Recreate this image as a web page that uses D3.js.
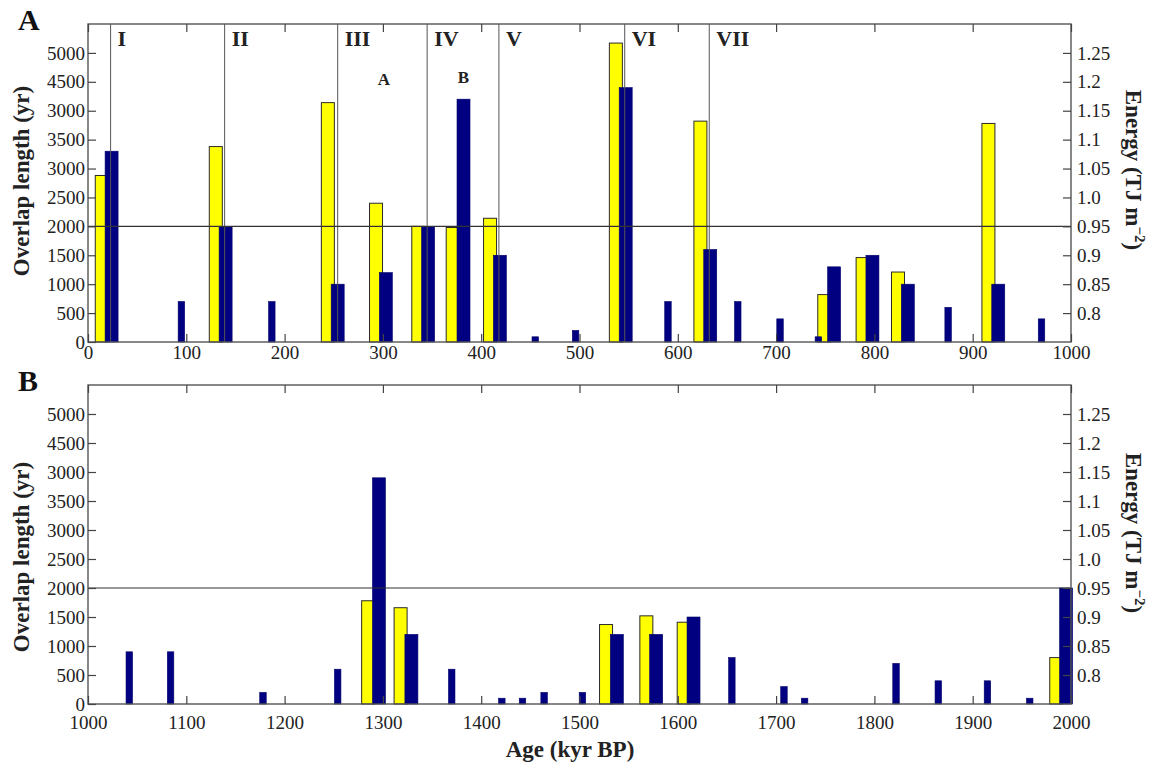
<!DOCTYPE html>
<html>
<head>
<meta charset="utf-8">
<script src="https://cdn.jsdelivr.net/npm/d3@7"></script>
<style>
  body { margin: 0; background: #fff; }
  svg { display: block; font-family: "Liberation Serif", "DejaVu Serif", serif; }
  svg text { font-family: "Liberation Serif", "DejaVu Serif", serif; }
</style>
</head>
<body>
<div id="chart"></div>
<script>
// overlap length (yr) bars, panel A (0-1000 kyr BP)
const yellowAgeA = [14, 130, 244, 293, 336, 371, 409, 537, 623, 749, 788, 824, 916];
const yellowValA = [2880, 3380, 4140, 2400, 2000, 1980, 2140, 5170, 3820, 820, 1460, 1210, 3780];
const blueAgeA = [24, 95, 140, 187, 254, 303, 346, 382, 419, 455, 496, 547, 590, 633, 661, 704, 743, 759, 798, 834, 875, 926, 970];
const blueValA = [3300, 700, 2000, 700, 1000, 1200, 2000, 4200, 1500, 90, 200, 4400, 700, 1600, 700, 400, 90, 1300, 1500, 1000, 600, 1000, 400];

// panel B (1000-2000 kyr BP)
const yellowAgeB = [1285, 1318, 1527, 1568, 1606, 1985];
const yellowValB = [1780, 1660, 1370, 1520, 1410, 800];
const blueAgeB = [1042, 1084, 1178, 1254, 1296, 1329, 1370, 1421, 1442, 1464, 1503, 1538, 1578, 1616, 1655, 1708, 1729, 1822, 1865, 1915, 1958, 1995];
const blueValB = [900, 900, 200, 600, 3900, 1200, 600, 100, 100, 200, 200, 1200, 1200, 1500, 800, 300, 100, 700, 400, 400, 100, 2000];

// period boundaries in panel A
const periodAge = [23, 139, 254, 345, 418, 546, 632];
const periodLabel = ["I", "II", "III", "IV", "V", "VI", "VII"];
const noteAge = [301, 382];
const noteLabel = ["A", "B"];

// axes
const overlapTicks = [0, 500, 1000, 1500, 2000, 2500, 3000, 3500, 4000, 4500, 5000];
const overlapTickLabels = ["0", "500", "1000", "1500", "2000", "2500", "3000", "3500", "3000", "4500", "5000"];
const energyTicks = [0.8, 0.85, 0.9, 0.95, 1.0, 1.05, 1.1, 1.15, 1.2, 1.25];
const energyTickLabels = ["0.8", "0.85", "0.9", "0.95", "1.0", "1.05", "1.1", "1.15", "1.2", "1.25"];
const threshold = 2000;

const width = 1151, height = 765;
const left = 88, right = 1071;
const serif = '"Liberation Serif", "DejaVu Serif", serif';

const svg = d3.select("#chart").append("svg")
  .attr("width", width)
  .attr("height", height);

function drawPanel(p) {
  const x = d3.scaleLinear().domain(p.xDomain).range([left, right]);
  const y = d3.scaleLinear().domain([0, 5500]).range([p.bottom, p.top]);
  const e = d3.scaleLinear().domain([0.75, 1.3]).range([p.bottom, p.top]);
  const g = svg.append("g");

  // bars
  const yellow = p.yellowAge.map((a, i) => ({age: a, v: p.yellowVal[i]}));
  const blue = p.blueAge.map((a, i) => ({
    age: a, v: p.blueVal[i],
    wide: p.yellowAge.some(ya => a - ya > 5 && a - ya < 16)
  }));

  g.selectAll(".yb").data(yellow).join("rect")
    .attr("x", d => x(d.age) - 6.5)
    .attr("width", 13)
    .attr("y", d => y(d.v))
    .attr("height", d => y(0) - y(d.v))
    .attr("fill", "#ffff00")
    .attr("stroke", "#2a2a2a")
    .attr("stroke-width", 1);

  g.selectAll(".bb").data(blue).join("rect")
    .attr("x", d => x(d.age) - (d.wide ? 6.5 : 3.25))
    .attr("width", d => d.wide ? 13 : 6.5)
    .attr("y", d => y(d.v))
    .attr("height", d => y(0) - y(d.v))
    .attr("fill", "#000080")
    .attr("stroke", "#00006a")
    .attr("stroke-width", 0.6);

  // period lines
  if (p.periods) {
    g.selectAll(".pl").data(periodAge).join("line")
      .attr("x1", d => x(d)).attr("x2", d => x(d))
      .attr("y1", p.top).attr("y2", p.bottom)
      .attr("stroke", "#555").attr("stroke-width", 1);
    g.selectAll(".pt").data(periodAge).join("text")
      .attr("x", d => x(d) + 7)
      .attr("y", p.top + 22)
      .attr("font-size", 22).attr("font-weight", "bold").attr("fill", "#222")
      .text((d, i) => periodLabel[i]);
    g.selectAll(".nt").data(noteAge).join("text")
      .attr("x", d => x(d))
      .attr("y", (d, i) => p.top + (i === 0 ? 61 : 59))
      .attr("text-anchor", "middle")
      .attr("font-size", 17).attr("font-weight", "bold").attr("fill", "#222")
      .text((d, i) => noteLabel[i]);
  }

  // threshold line
  g.append("line")
    .attr("x1", left).attr("x2", right)
    .attr("y1", y(threshold)).attr("y2", y(threshold))
    .attr("stroke", "#333").attr("stroke-width", 1.2);

  // frame
  g.append("rect")
    .attr("x", left).attr("y", p.top)
    .attr("width", right - left).attr("height", p.bottom - p.top)
    .attr("fill", "none").attr("stroke", "#555").attr("stroke-width", 1.4);

  // axes
  const xt = d3.range(p.xDomain[0], p.xDomain[1] + 1, 100);
  g.append("g").attr("transform", `translate(0,${p.bottom})`)
    .call(d3.axisBottom(x).tickValues(xt).tickSizeInner(-8).tickSizeOuter(0).tickPadding(p.xPad).tickFormat(d3.format("d")));
  g.append("g").attr("transform", `translate(0,${p.top})`)
    .call(d3.axisTop(x).tickValues(xt).tickSizeInner(-8).tickSizeOuter(0).tickFormat(""));
  g.append("g").attr("transform", `translate(${left},0)`)
    .call(d3.axisLeft(y).tickValues(overlapTicks).tickSizeInner(-8).tickSizeOuter(0).tickPadding(3)
      .tickFormat((d, i) => overlapTickLabels[i]));
  g.append("g").attr("transform", `translate(${right},0)`)
    .call(d3.axisRight(e).tickValues(energyTicks).tickSizeInner(-8).tickSizeOuter(0).tickPadding(6)
      .tickFormat((d, i) => energyTickLabels[i]));

  g.selectAll(".domain").remove();
  g.selectAll(".tick line").attr("stroke", "#444").attr("stroke-width", 1.2);
  g.selectAll("g").attr("font-family", null).attr("font-size", null);
  g.selectAll(".tick text")
    .style("font-family", serif)
    .style("font-size", "19px")
    .attr("fill", "#222");

  // axis titles
  g.append("text")
    .attr("transform", `translate(29,${p.titleY}) rotate(-90)`)
    .attr("text-anchor", "middle")
    .attr("font-size", 23).attr("font-weight", "bold").attr("fill", "#222")
    .text("Overlap length (yr)");

  const et = g.append("text")
    .attr("transform", `translate(1126,${p.energyY}) rotate(90)`)
    .attr("text-anchor", "middle")
    .attr("font-size", 23).attr("font-weight", "bold").attr("fill", "#222");
  et.append("tspan").text("Energy (TJ m");
  et.append("tspan").attr("font-size", 15).attr("dy", -9).text("\u22122");
  et.append("tspan").attr("dy", 9).text(")");

  // panel letter
  g.append("text")
    .attr("x", 18).attr("y", p.top + p.letterDy)
    .attr("font-size", 30).attr("font-weight", "bold").attr("fill", "#111")
    .text(p.id);
}

drawPanel({
  id: "A", xDomain: [0, 1000], top: 24, bottom: 342, xPad: 4,
  yellowAge: yellowAgeA, yellowVal: yellowValA, blueAge: blueAgeA, blueVal: blueValA,
  periods: true, titleY: 181, energyY: 170, letterDy: 6
});

drawPanel({
  id: "B", xDomain: [1000, 2000], top: 385, bottom: 704, xPad: 12,
  yellowAge: yellowAgeB, yellowVal: yellowValB, blueAge: blueAgeB, blueVal: blueValB,
  periods: false, titleY: 557, energyY: 533, letterDy: 6
});

// x axis title
svg.append("text")
  .attr("x", 570).attr("y", 757)
  .attr("text-anchor", "middle")
  .attr("font-size", 23).attr("font-weight", "bold").attr("fill", "#222")
  .text("Age (kyr BP)");
</script>
</body>
</html>
